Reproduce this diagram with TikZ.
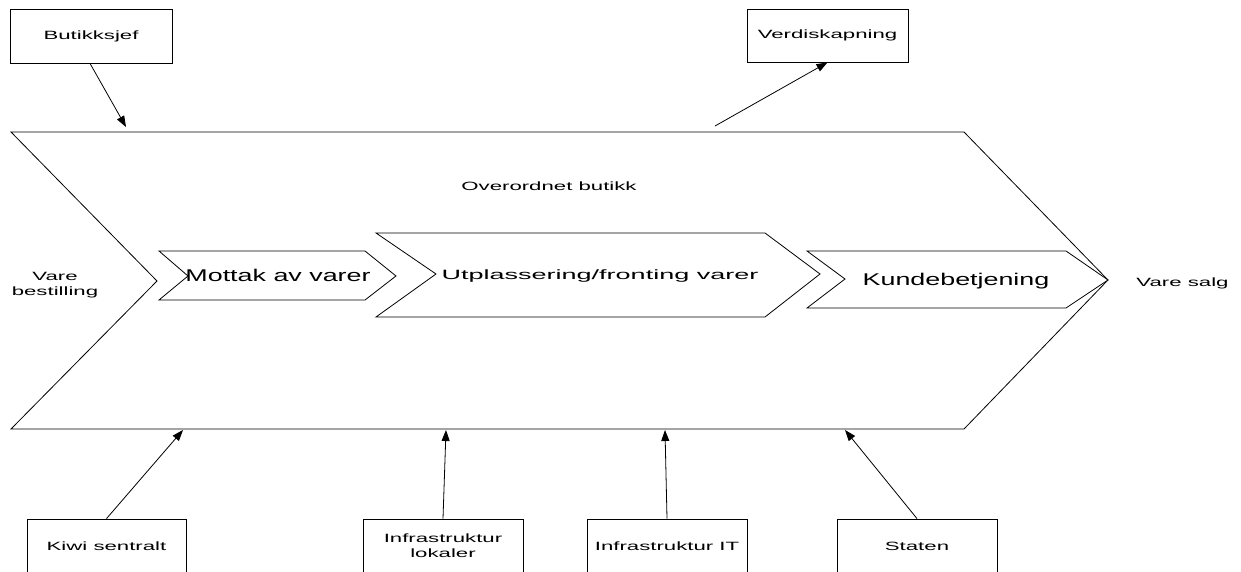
\documentclass[tikz,border=0pt]{standalone}
\usepackage{fontspec}
\setmainfont{Liberation Sans}
\usetikzlibrary{arrows.meta}
\newcommand{\wtxt}[1]{\scalebox{1.85}[1]{#1}}
\newcommand{\wbig}[1]{\scalebox{1.58}[1]{#1}}
\newcommand{\wmid}[1]{\scalebox{2.0}[1]{#1}}
\tikzset{
  ln/.style={line width=0.8pt, draw=black},
  chev/.style={ln, fill=white, line join=miter},
  smalltxt/.style={font=\fontsize{12}{15}\selectfont, inner sep=0pt},
  bigtxt/.style={font=\fontsize{17}{20}\selectfont, inner sep=0pt},
  midtxt/.style={font=\fontsize{13.5}{16}\selectfont, inner sep=0pt},
  box/.style={ln, rectangle, minimum width=160pt, minimum height=54pt, inner sep=0pt, align=center, font=\fontsize{12}{15}\selectfont},
  arr/.style={ln, -{Triangle[length=11pt,width=8pt]}}
}
\begin{document}
\begin{tikzpicture}[x=1pt,y=-1pt]
\useasboundingbox (0,0) rectangle (1241,572);
% big chevron
\draw[chev] (11,132) -- (964,132) -- (1108,280) -- (964,429) -- (11,429) -- (157,281) -- cycle;
% inner chevrons
\draw[chev] (159,251) -- (365,251) -- (396,276) -- (365,300) -- (159,300) -- (188,276) -- cycle;
\draw[chev] (376,233) -- (765,233) -- (820,274) -- (765,317) -- (376,317) -- (436,274) -- cycle;
\draw[chev] (807,251) -- (1066,251) -- (1108,280) -- (1066,308) -- (807,308) -- (845,279) -- cycle;
% texts
\node[smalltxt, anchor=base] (overord) at (549,190.5) {\wtxt{Overordnet butikk}};
\node[bigtxt, anchor=base] (mottak) at (278,281) {\wbig{Mottak av varer}};
\node[midtxt, anchor=base] (utpl) at (600,279) {\wmid{Utplassering/fronting varer}};
\node[bigtxt, anchor=base] (kunde) at (956,285) {\wbig{Kundebetjening}};
\node[smalltxt, align=center] (vbest) at (55,285) {\wtxt{Vare}\\\wtxt{bestilling}};
\node[smalltxt, anchor=base] (vsalg) at (1182.5,286) {\wtxt{Vare salg}};
% boxes
\node[box, minimum width=162pt] (bsj) at (91,36) {\wtxt{Butikksjef}};
\node[box, minimum width=161pt, minimum height=53pt] (verdi) at (827.5,35.5) {\wtxt{Verdiskapning}};
\node[box, minimum width=159pt] (kiwi) at (106.5,546) {\wtxt{Kiwi sentralt}};
\node[box] (infl) at (443,546) {\wtxt{Infrastruktur}\\\wtxt{lokaler}};
\node[box] (infit) at (667,546) {\wtxt{Infrastruktur IT}};
\node[box] (staten) at (917,546) {\wtxt{Staten}};
% connector end points on the big chevron
\coordinate (pbsj) at (126,127);
\coordinate (pverdi) at (715,126);
\coordinate (pkiwi) at (183,430);
\coordinate (pinfl) at (446,430);
\coordinate (pinfit) at (665,430);
\coordinate (pstaten) at (845,430);
% arrows
\draw[arr] (bsj.south -| 90,0) -- (pbsj);
\draw[arr] (pverdi) -- (verdi.south);
\draw[arr] (kiwi.north) -- (pkiwi);
\draw[arr] (infl.north) -- (pinfl);
\draw[arr] (infit.north) -- (pinfit);
\draw[arr] (staten.north) -- (pstaten);
\end{tikzpicture}
\end{document}
